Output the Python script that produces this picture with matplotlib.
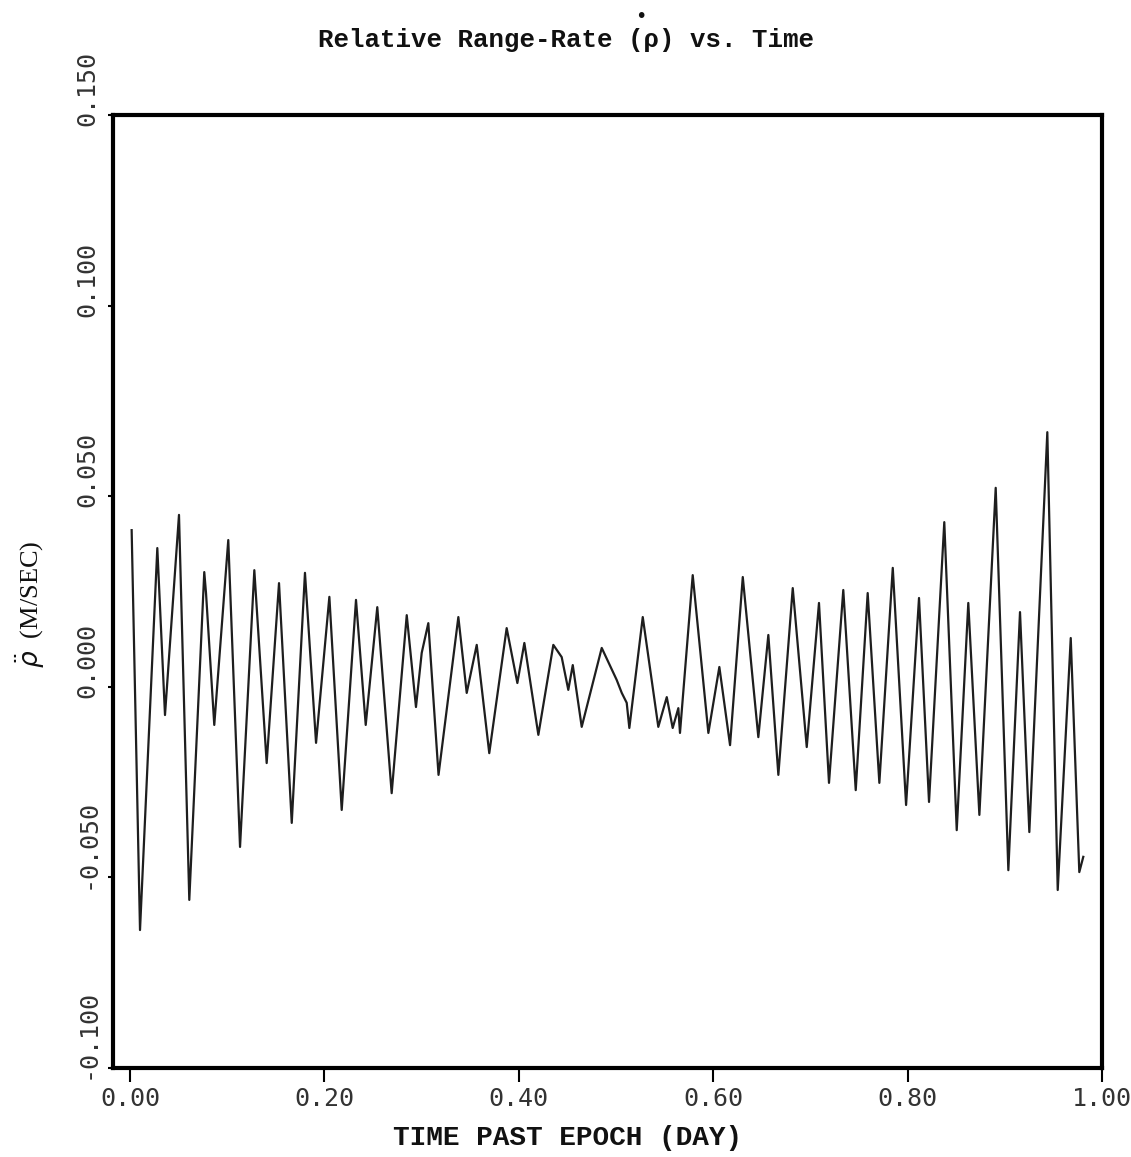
import matplotlib
matplotlib.use('Agg')
import matplotlib.pyplot as plt
from matplotlib.transforms import offset_copy

# ---- data ----
time_day = [0.0017, 0.0103, 0.0281, 0.0360, 0.0504, 0.0610, 0.0764, 0.0782, 0.0867, 0.1011,
            0.1132, 0.1279, 0.1406, 0.1533, 0.1664, 0.1800, 0.1914, 0.2051, 0.2178, 0.2325,
            0.2425, 0.2544, 0.2692, 0.2847, 0.2942, 0.3001, 0.3069, 0.3174, 0.3378, 0.3464,
            0.3567, 0.3696, 0.3875, 0.3985, 0.4057, 0.4201, 0.4355, 0.4441, 0.4509, 0.4555,
            0.4647, 0.4853, 0.5007, 0.5059, 0.5110, 0.5137, 0.5275, 0.5435, 0.5522, 0.5583,
            0.5641, 0.5658, 0.5789, 0.5950, 0.6063, 0.6173, 0.6304, 0.6464, 0.6567, 0.6670,
            0.6818, 0.6962, 0.7088, 0.7191, 0.7338, 0.7466, 0.7589, 0.7709, 0.7847, 0.7984,
            0.8117, 0.8220, 0.8377, 0.8505, 0.8624, 0.8738, 0.8906, 0.9036, 0.9156, 0.9252,
            0.9437, 0.9544, 0.9678, 0.9766, 0.9807]
rho_ddot = [0.0411, -0.0638, 0.0364, -0.0074, 0.0451, -0.0559, 0.0301, 0.0246, -0.0100, 0.0385,
            -0.0420, 0.0306, -0.0200, 0.0272, -0.0357, 0.0299, -0.0147, 0.0236, -0.0323, 0.0228,
            -0.0100, 0.0209, -0.0279, 0.0188, -0.0053, 0.0089, 0.0167, -0.0231, 0.0183, -0.0016,
            0.0110, -0.0174, 0.0154, 0.0010, 0.0115, -0.0126, 0.0110, 0.0078, -0.0008, 0.0057,
            -0.0105, 0.0102, 0.0018, -0.0016, -0.0042, -0.0108, 0.0183, -0.0105, -0.0027, -0.0108,
            -0.0056, -0.0121, 0.0293, -0.0121, 0.0052, -0.0153, 0.0288, -0.0132, 0.0136, -0.0231,
            0.0259, -0.0158, 0.0220, -0.0252, 0.0254, -0.0271, 0.0246, -0.0252, 0.0312, -0.0310,
            0.0233, -0.0302, 0.0432, -0.0376, 0.0220, -0.0336, 0.0522, -0.0481, 0.0196, -0.0381,
            0.0668, -0.0533, 0.0128, -0.0486, -0.0446]

x_ticks = [0.0, 0.2, 0.4, 0.6, 0.8, 1.0]
x_tick_labels = ['0.00', '0.20', '0.40', '0.60', '0.80', '1.00']
y_ticks = [-0.100, -0.050, 0.000, 0.050, 0.100, 0.150]
y_tick_labels = ['-0.100', '-0.050', '0.000', '0.050', '0.100', '0.150']

title_text = 'Relative Range-Rate (\u03c1) vs. Time'
x_label = 'TIME PAST EPOCH (DAY)'
y_label = r'$\ddot{\rho}$  (M/SEC)'

# ---- figure ----
fig = plt.figure(figsize=(11.31, 11.57), dpi=100)
ax = fig.add_axes([0.0999, 0.0769, 0.8745, 0.8237])

ax.plot(time_day, rho_ddot, color='#1e1e1e', linewidth=1.6)

ax.set_xlim(-0.0175, 1.0)
ax.set_ylim(-0.100, 0.150)

for s in ax.spines.values():
    s.set_linewidth(3.0)
    s.set_color('black')

ax.set_xticks(x_ticks)
ax.set_xticklabels(x_tick_labels, fontfamily='DejaVu Sans Mono', fontsize=18, color='#333333')
ax.tick_params(axis='x', direction='out', length=10, width=1.5, pad=4)

ax.set_yticks(y_ticks)
ax.set_yticklabels([])
ax.tick_params(axis='y', direction='out', length=3.5, width=1.5)

ytrans = offset_copy(ax.get_yaxis_transform(), fig=fig, x=0, y=-8, units='points')
for v, lab in zip(y_ticks, y_tick_labels):
    ax.text(-0.026, v, lab, transform=ytrans, rotation=90, rotation_mode='anchor',
            ha='left', va='center', fontfamily='DejaVu Sans Mono', fontsize=18,
            color='#333333', clip_on=False)

# title with dot above rho
fs_title = 18.5
fig.text(0.5, 0.9654, title_text, ha='center', va='center',
         fontfamily=['Liberation Mono', 'DejaVu Sans Mono'], fontweight='bold',
         fontsize=fs_title, color='#111111')
dot_trans = offset_copy(fig.transFigure, fig=fig, x=(21.5 - 16) * 0.6 * fs_title - 7, y=17,
                        units='points')
fig.text(0.5, 0.9654, '\u2022', transform=dot_trans, ha='center', va='center',
         fontfamily='DejaVu Sans', fontsize=14, color='#111111')

fig.text(0.5015, 0.0164, x_label, ha='center', va='center',
         fontfamily=['Liberation Mono', 'DejaVu Sans Mono'], fontweight='bold',
         fontsize=20, color='#111111')

fig.text(0.027, 0.478, y_label, ha='center', va='center', rotation=90,
         fontfamily='Liberation Serif', fontsize=19, color='#111111')

fig.savefig('out.png', dpi=100, facecolor='white')
